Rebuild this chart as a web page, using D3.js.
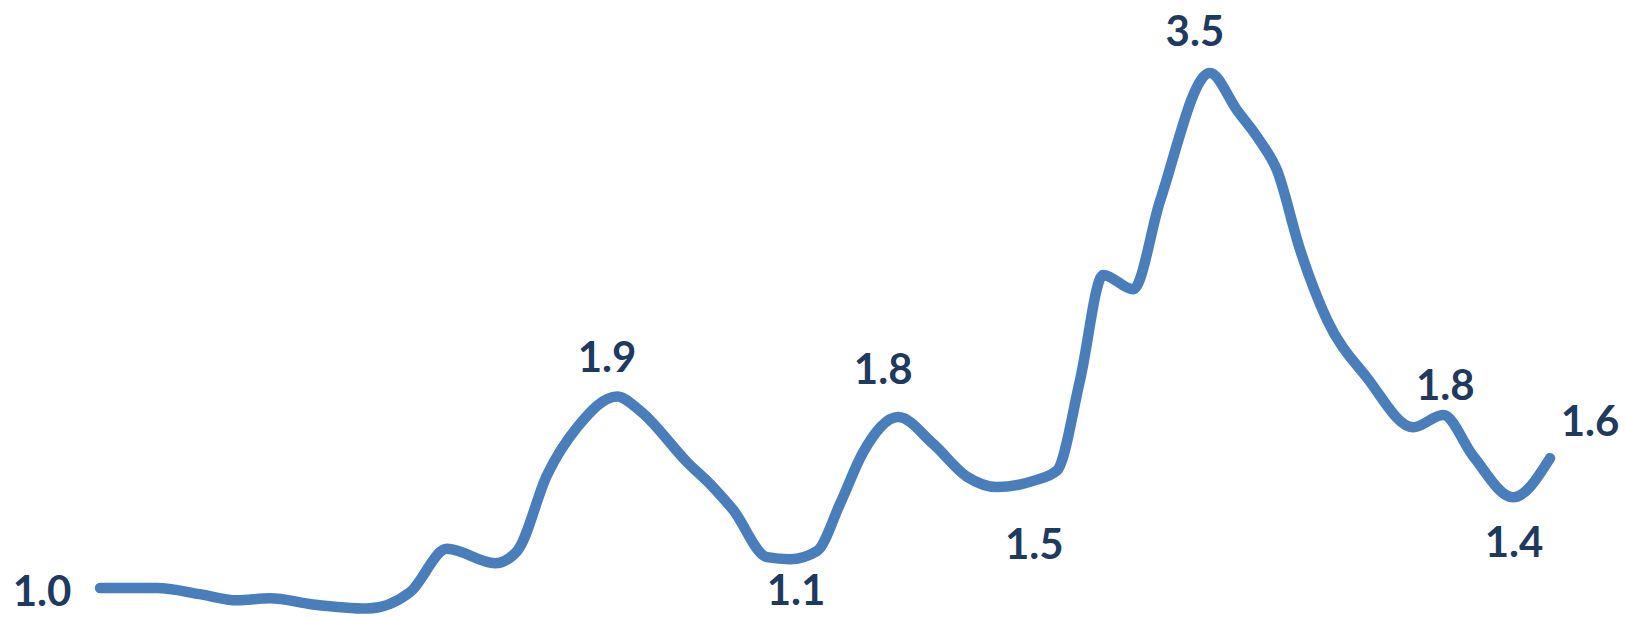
<!DOCTYPE html>
<html>
<head>
<meta charset="utf-8">
<script src="https://cdn.jsdelivr.net/npm/d3@7"></script>
<style>
  html, body { margin: 0; padding: 0; background: #fff; }
  svg { display: block; }
</style>
</head>
<body>
<svg id="chart" width="1626" height="617"></svg>
<script>
// x positions (weeks)
const weeks = [0, 1.73, 3.03, 4.16, 5.16, 6.46, 8.10, 9.41, 10.53, 11.99, 12.66, 13.57, 14.48,
  15.69, 16.39, 17.82, 18.60, 19.21, 20.24, 20.94, 21.76, 22.46, 23.16, 24.22, 25.28, 26.31, 27.22,
  28.32, 29.04, 29.74, 30.44, 31.35, 32.17, 33.68, 34.50, 35.20, 35.71, 36.42,
  37.24, 38.45, 39.85, 40.76, 41.67, 42.88, 44.0];
// series values
const values = [1.00, 1.00, 0.97, 0.94, 0.95, 0.92, 0.90, 0.98, 1.19, 1.12, 1.18, 1.55, 1.78,
  1.93, 1.86, 1.61, 1.49, 1.38, 1.15, 1.14, 1.18, 1.41, 1.66, 1.83, 1.70, 1.54, 1.49,
  1.52, 1.57, 2.01, 2.52, 2.45, 2.88, 3.50, 3.32, 3.17, 3.03, 2.64,
  2.30, 2.02, 1.78, 1.84, 1.64, 1.44, 1.63];
// indices of points carrying a data label
const labelIdx = [0, 13, 19, 23, 27, 33, 41, 43, 44];
// label placement offsets (layout, px)
const labelDx = [-58, -10, 6, -15, 1, -15, 2, 1, 40];
const labelDy = [18, -24, 46, -33, 78, -27, -15, 60, -22];

const svg = d3.select("#chart");
const W = 1626, H = 617;
const margin = { left: 100, right: 76, top: 73, bottom: 8.4 };

const x = d3.scaleLinear().domain([0, 44]).range([margin.left, W - margin.right]);
const y = d3.scaleLinear().domain([0.9, 3.5]).range([H - margin.bottom, margin.top]);

const data = weeks.map((w, i) => ({ w, v: values[i] }));

const line = d3.line()
  .x(d => x(d.w))
  .y(d => y(d.v))
  .curve(d3.curveMonotoneX);

svg.append("path")
  .datum(data)
  .attr("d", line)
  .attr("fill", "none")
  .attr("stroke", "#4A7EBB")
  .attr("stroke-width", 10.5)
  .attr("stroke-linecap", "round")
  .attr("stroke-linejoin", "round");

const fmt = d3.format(".1f");
svg.append("g")
  .selectAll("text")
  .data(labelIdx)
  .join("text")
  .attr("x", (k, i) => x(weeks[k]) + labelDx[i])
  .attr("y", (k, i) => y(values[k]) + labelDy[i])
  .attr("text-anchor", "middle")
  .attr("font-family", "Lato, 'Open Sans', sans-serif")
  .attr("font-weight", 700)
  .attr("font-size", 42)
  .attr("fill", "#1F3A5F")
  .text(k => fmt(values[k]));
</script>
</body>
</html>
